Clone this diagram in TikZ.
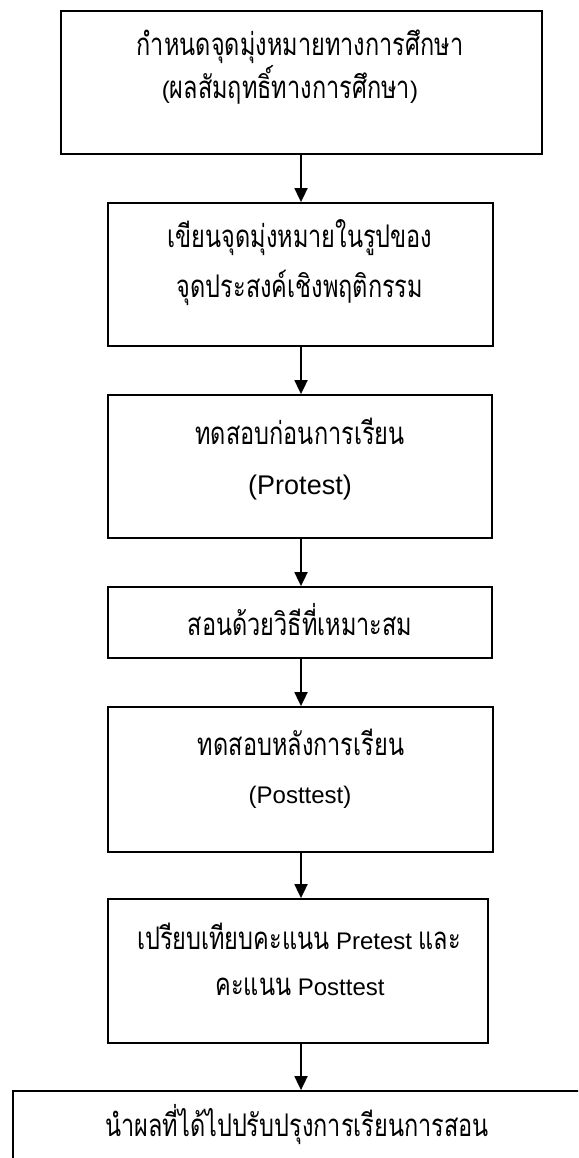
\documentclass[tikz,border=0pt]{standalone}
\usepackage{fontspec}
\setmainfont{Liberation Sans}
\newfontfamily\thai[Script=Thai]{Loma}
\newcommand\thx[1]{\scalebox{0.98}[1.3]{\thai #1}}
\usetikzlibrary{arrows.meta}
\begin{document}
\begin{tikzpicture}[x=1pt,y=-1pt,
  box/.style={draw, line width=1.8pt, inner sep=0pt, anchor=center},
  txt/.style={inner sep=0pt, anchor=center, font=\fontsize{24}{28}\selectfont},
  big/.style={font=\fontsize{27}{31}\selectfont},
  arr/.style={line width=1.8pt, -{Triangle[width=13pt,length=14pt]}}]
\useasboundingbox (0,0) rectangle (578,1158);
\clip (0,0) rectangle (578,1158);
\fill[white] (0,0) rectangle (578,1158);
% boxes
\node[box, minimum width=481pt, minimum height=143pt] (b1) at (301.5,82.5) {};
\node[box, minimum width=385pt, minimum height=143pt] (b2) at (300.5,274.5) {};
\node[box, minimum width=384pt, minimum height=143pt] (b3) at (300,466.5) {};
\node[box, minimum width=384pt, minimum height=71pt] (b4) at (300,622.5) {};
\node[box, minimum width=385pt, minimum height=145pt] (b5) at (300.5,779.5) {};
\node[box, minimum width=380pt, minimum height=144pt] (b6) at (298,971) {};
\node[box, minimum width=620pt, minimum height=120pt] (b7) at (323,1151) {};
% texts
\node[txt] (t1a) at (300,47) {\thx{กำหนดจุดมุ่งหมายทางการศึกษา}};
\node[txt] (t1b) at (290,85) {(\thx{ผลสัมฤทธิ์ทางการศึกษา})};
\node[txt] (t2a) at (300,238) {\thx{เขียนจุดมุ่งหมายในรูปของ}};
\node[txt] (t2b) at (300,288) {\thx{จุดประสงค์เชิงพฤติกรรม}};
\node[txt] (t3a) at (300,431) {\thx{ทดสอบก่อนการเรียน}};
\node[txt,big] (t3b) at (300,488) {(Protest)};
\node[txt] (t4) at (300,620) {\thx{สอนด้วยวิธีที่เหมาะสม}};
\node[txt] (t5a) at (301,742) {\thx{ทดสอบหลังการเรียน}};
\node[txt] (t5b) at (300,797) {(Posttest)};
\node[txt] (t6a) at (299,936) {\thx{เปรียบเทียบคะแนน} Pretest \thx{และ}};
\node[txt] (t6b) at (300,987) {\thx{คะแนน} Posttest};
\node[txt] (t7) at (297,1125) {\thx{นำผลที่ได้ไปปรับปรุงการเรียนการสอน}};
% arrows
\draw[arr] (b1.south -| 301,0) -- (b2.north -| 301,0);
\draw[arr] (b2.south -| 301,0) -- (b3.north -| 301,0);
\draw[arr] (b3.south -| 301,0) -- (b4.north -| 301,0);
\draw[arr] (b4.south -| 301,0) -- (b5.north -| 301,0);
\draw[arr] (b5.south -| 301,0) -- (b6.north -| 301,0);
\draw[arr] (b6.south -| 301,0) -- (b7.north -| 301,0);
\end{tikzpicture}
\end{document}
